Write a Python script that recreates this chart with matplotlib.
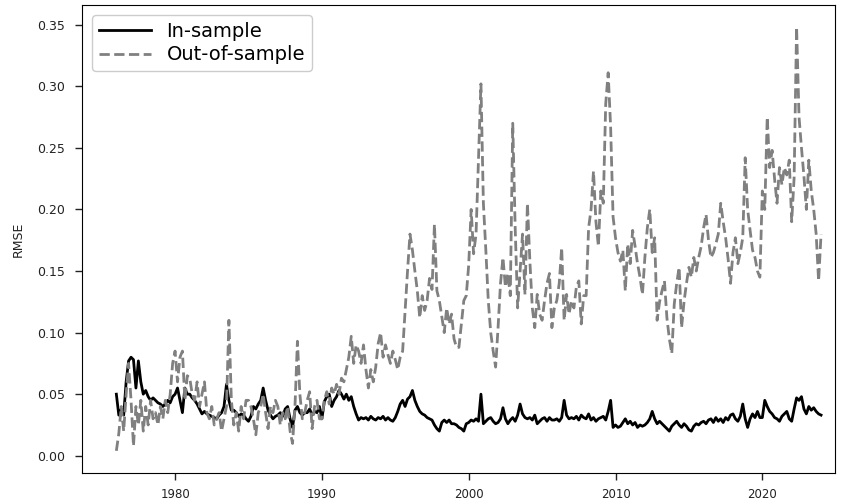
import numpy as np
import matplotlib
matplotlib.use("Agg")
import matplotlib.pyplot as plt

# bimonthly samples (6 per year) from 1976.0 to 2024.0
start_year = 1976
per_year = 6

in_sample = [
    0.050, 0.033, 0.038, 0.033, 0.060, 0.077,  # 1976
    0.080, 0.078, 0.055, 0.077, 0.060, 0.050,  # 1977
    0.053, 0.048, 0.045, 0.047, 0.045, 0.043,  # 1978
    0.042, 0.040, 0.042, 0.045, 0.043, 0.048,  # 1979
    0.050, 0.055, 0.045, 0.035, 0.055, 0.050,  # 1980
    0.050, 0.047, 0.045, 0.042, 0.038, 0.034,  # 1981
    0.036, 0.034, 0.033, 0.032, 0.031, 0.030,  # 1982
    0.033, 0.035, 0.040, 0.058, 0.045, 0.037,  # 1983
    0.037, 0.035, 0.032, 0.034, 0.033, 0.030,  # 1984
    0.028, 0.032, 0.040, 0.038, 0.042, 0.045,  # 1985
    0.055, 0.045, 0.037, 0.033, 0.030, 0.032,  # 1986
    0.033, 0.035, 0.032, 0.038, 0.040, 0.030,  # 1987
    0.023, 0.037, 0.040, 0.035, 0.033, 0.035,  # 1988
    0.035, 0.038, 0.033, 0.036, 0.035, 0.040,  # 1989
    0.030, 0.044, 0.048, 0.050, 0.040, 0.045,  # 1990
    0.048, 0.053, 0.050, 0.046, 0.050, 0.045,  # 1991
    0.048, 0.040, 0.034, 0.029, 0.031, 0.030,  # 1992
    0.031, 0.029, 0.032, 0.030, 0.029, 0.031,  # 1993
    0.030, 0.032, 0.029, 0.031, 0.029, 0.028,  # 1994
    0.031, 0.036, 0.042, 0.045, 0.040, 0.046,  # 1995
    0.048, 0.053, 0.045, 0.040, 0.036, 0.034,  # 1996
    0.033, 0.031, 0.030, 0.029, 0.025, 0.022,  # 1997
    0.020, 0.027, 0.029, 0.027, 0.029, 0.026,  # 1998
    0.026, 0.025, 0.023, 0.022, 0.020, 0.026,  # 1999
    0.027, 0.029, 0.028, 0.030, 0.028, 0.050,  # 2000
    0.026, 0.028, 0.030, 0.031, 0.028, 0.026,  # 2001
    0.027, 0.030, 0.039, 0.030, 0.026, 0.029,  # 2002
    0.031, 0.028, 0.033, 0.042, 0.034, 0.031,  # 2003
    0.030, 0.031, 0.029, 0.033, 0.026, 0.028,  # 2004
    0.030, 0.031, 0.028, 0.031, 0.029, 0.029,  # 2005
    0.030, 0.028, 0.031, 0.045, 0.033, 0.030,  # 2006
    0.031, 0.030, 0.032, 0.029, 0.033, 0.031,  # 2007
    0.030, 0.034, 0.029, 0.031, 0.028, 0.030,  # 2008
    0.031, 0.032, 0.029, 0.036, 0.045, 0.023,  # 2009
    0.025, 0.023, 0.024, 0.027, 0.030, 0.026,  # 2010
    0.028, 0.025, 0.027, 0.023, 0.025, 0.024,  # 2011
    0.025, 0.027, 0.030, 0.036, 0.030, 0.026,  # 2012
    0.028, 0.026, 0.024, 0.022, 0.020, 0.024,  # 2013
    0.026, 0.028, 0.025, 0.023, 0.026, 0.024,  # 2014
    0.021, 0.020, 0.024, 0.026, 0.025, 0.027,  # 2015
    0.028, 0.026, 0.029, 0.030, 0.027, 0.031,  # 2016
    0.028, 0.030, 0.027, 0.031, 0.029, 0.033,  # 2017
    0.034, 0.030, 0.028, 0.032, 0.042, 0.030,  # 2018
    0.023, 0.030, 0.034, 0.031, 0.036, 0.031,  # 2019
    0.031, 0.045, 0.040, 0.036, 0.034, 0.031,  # 2020
    0.030, 0.028, 0.032, 0.034, 0.036, 0.030,  # 2021
    0.028, 0.038, 0.047, 0.045, 0.048, 0.038,  # 2022
    0.034, 0.040, 0.037, 0.039, 0.036, 0.034,  # 2023
    0.033,                                      # 2024
]

out_of_sample = [
    0.004, 0.018, 0.040, 0.020, 0.050, 0.075,  # 1976
    0.045, 0.008, 0.040, 0.025, 0.045, 0.020,  # 1977
    0.040, 0.025, 0.045, 0.030, 0.035, 0.025,  # 1978
    0.040, 0.030, 0.045, 0.035, 0.050, 0.075,  # 1979
    0.085, 0.060, 0.080, 0.085, 0.045, 0.065,  # 1980
    0.063, 0.050, 0.045, 0.060, 0.040, 0.050,  # 1981
    0.060, 0.035, 0.030, 0.040, 0.025, 0.030,  # 1982
    0.035, 0.020, 0.030, 0.040, 0.110, 0.045,  # 1983
    0.025, 0.035, 0.020, 0.040, 0.030, 0.045,  # 1984
    0.045, 0.040, 0.030, 0.017, 0.035, 0.040,  # 1985
    0.050, 0.035, 0.022, 0.040, 0.035, 0.045,  # 1986
    0.040, 0.025, 0.035, 0.030, 0.040, 0.020,  # 1987
    0.010, 0.040, 0.093, 0.050, 0.030, 0.035,  # 1988
    0.045, 0.052, 0.022, 0.040, 0.045, 0.030,  # 1989
    0.030, 0.045, 0.052, 0.042, 0.055, 0.050,  # 1990
    0.058, 0.050, 0.063, 0.060, 0.070, 0.080,  # 1991
    0.097, 0.075, 0.090, 0.085, 0.075, 0.090,  # 1992
    0.070, 0.055, 0.070, 0.060, 0.072, 0.091,  # 1993
    0.100, 0.080, 0.090, 0.082, 0.075, 0.085,  # 1994
    0.078, 0.070, 0.080, 0.085, 0.118, 0.150,  # 1995
    0.180, 0.167, 0.150, 0.134, 0.112, 0.130,  # 1996
    0.118, 0.126, 0.144, 0.135, 0.188, 0.134,  # 1997
    0.126, 0.113, 0.100, 0.120, 0.107, 0.115,  # 1998
    0.095, 0.088, 0.088, 0.107, 0.126, 0.130,  # 1999
    0.155, 0.200, 0.164, 0.180, 0.240, 0.302,  # 2000
    0.205, 0.167, 0.126, 0.100, 0.085, 0.072,  # 2001
    0.104, 0.140, 0.161, 0.137, 0.148, 0.130,  # 2002
    0.270, 0.185, 0.120, 0.150, 0.180, 0.131,  # 2003
    0.205, 0.158, 0.120, 0.104, 0.131, 0.115,  # 2004
    0.110, 0.126, 0.140, 0.148, 0.104, 0.120,  # 2005
    0.126, 0.140, 0.169, 0.110, 0.131, 0.115,  # 2006
    0.126, 0.120, 0.137, 0.142, 0.107, 0.130,  # 2007
    0.130, 0.185, 0.200, 0.231, 0.190, 0.170,  # 2008
    0.215, 0.205, 0.286, 0.311, 0.267, 0.194,  # 2009
    0.177, 0.165, 0.158, 0.167, 0.134, 0.172,  # 2010
    0.156, 0.183, 0.170, 0.156, 0.145, 0.131,  # 2011
    0.161, 0.185, 0.200, 0.165, 0.177, 0.110,  # 2012
    0.125, 0.134, 0.142, 0.112, 0.095, 0.083,  # 2013
    0.123, 0.140, 0.153, 0.104, 0.125, 0.140,  # 2014
    0.153, 0.145, 0.161, 0.150, 0.161, 0.170,  # 2015
    0.185, 0.196, 0.175, 0.161, 0.165, 0.172,  # 2016
    0.180, 0.205, 0.190, 0.177, 0.160, 0.140,  # 2017
    0.165, 0.177, 0.156, 0.165, 0.177, 0.242,  # 2018
    0.200, 0.183, 0.167, 0.161, 0.150, 0.145,  # 2019
    0.215, 0.200, 0.275, 0.234, 0.248, 0.225,  # 2020
    0.205, 0.234, 0.220, 0.234, 0.228, 0.240,  # 2021
    0.190, 0.226, 0.348, 0.275, 0.250, 0.227,  # 2022
    0.200, 0.240, 0.215, 0.200, 0.180, 0.142,  # 2023
    0.180,                                      # 2024
]

year_ticks = [1980, 1990, 2000, 2010, 2020]
y_ticks = [0.00, 0.05, 0.10, 0.15, 0.20, 0.25, 0.30, 0.35]

years = start_year + np.arange(len(in_sample)) / per_year

fig = plt.figure(figsize=(8.49, 5.01), dpi=100)
ax = fig.add_axes([82 / 849, 28 / 501, 753 / 849, 468 / 501])

ax.plot(years, in_sample, color="black", lw=2.0, label="In-sample")
ax.plot(years, out_of_sample, color="#808080", lw=2.0, ls="--", label="Out-of-sample")

ax.set_xlim(1973.66, 2024.95)
ax.set_ylim(-0.014, 0.366)
ax.set_xticks(year_ticks)
ax.set_xticklabels([str(y) for y in year_ticks], fontsize=8.5)
ax.set_yticks(y_ticks)
ax.set_yticklabels([f"{v:.2f}" for v in y_ticks], fontsize=9)
ax.tick_params(axis="both", length=5, width=1, color="#222222", labelcolor="#222222")
ax.tick_params(axis="y", pad=7)
ax.tick_params(axis="x", pad=6)
ax.set_ylabel("RMSE", fontsize=9, color="#222222", labelpad=9)

leg = ax.legend(loc="upper left", fontsize=14, handlelength=2.7, framealpha=1.0,
                borderaxespad=0.5, labelspacing=0.25, borderpad=0.35)

fig.savefig("out.png", dpi=100)
